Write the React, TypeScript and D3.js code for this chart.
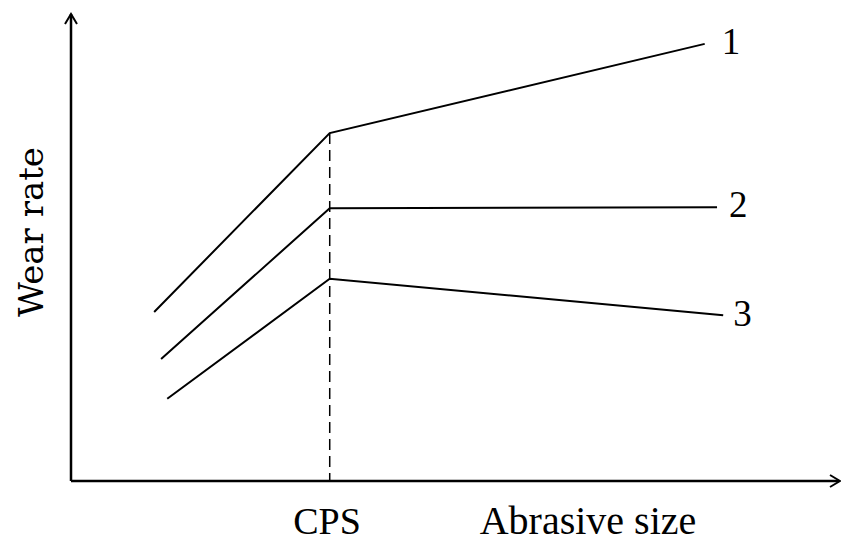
import React from "react";
import * as d3 from "d3";

const seriesNames = ["1", "2", "3"];
const seriesX = [
  [10.8, 33.6, 82.3],
  [11.7, 33.6, 83.9],
  [12.5, 33.6, 84.7],
];
const seriesY = [
  [36.2, 74.5, 93.6],
  [26.1, 58.4, 58.6],
  [17.6, 43.3, 35.5],
];
const cpsX = 33.6;
const cpsPeak = 74.5;
const xLabels = ["CPS", "Abrasive size"];
const yLabel = "Wear rate";

const W = 841;
const H = 543;

export default function App() {
  const x = d3.scaleLinear().domain([0, 100]).range([71, 841]);
  const y = d3.scaleLinear().domain([0, 100]).range([481, 14]);
  const line = d3
    .line<[number, number]>()
    .x((d) => x(d[0]))
    .y((d) => y(d[1]));
  const font = "Liberation Serif, Times New Roman, serif";
  const fontY = "DejaVu Serif, serif";
  const labelOffsets = [
    [17, 10],
    [12, 10],
    [10, 11],
  ];
  return (
    <svg
      width={W}
      height={H}
      style={{ position: "absolute", left: 0, top: 0, background: "#fff" }}
    >
      <line x1={x(0)} y1={y(0)} x2={x(0)} y2={y(100)} stroke="#000" strokeWidth={2.5} />
      <path
        d={`M${x(0) - 6},${y(100) + 10} L${x(0)},${y(100)} L${x(0) + 6},${y(100) + 10}`}
        fill="none"
        stroke="#000"
        strokeWidth={2}
      />
      <line x1={x(0)} y1={y(0)} x2={839} y2={y(0)} stroke="#000" strokeWidth={2.5} />
      <path
        d={`M${830},${y(0) - 6} L${840},${y(0)} L${830},${y(0) + 6}`}
        fill="none"
        stroke="#000"
        strokeWidth={2}
      />
      <line
        x1={x(cpsX)}
        y1={y(cpsPeak)}
        x2={x(cpsX)}
        y2={y(0)}
        stroke="#000"
        strokeWidth={1.5}
        strokeDasharray="11,6"
      />
      {seriesNames.map((name, i) => {
        const pts = seriesX[i].map((v, j) => [v, seriesY[i][j]] as [number, number]);
        const last = pts[pts.length - 1];
        return (
          <g key={name}>
            <path d={line(pts) || ""} fill="none" stroke="#000" strokeWidth={2} />
            <text
              x={x(last[0]) + labelOffsets[i][0]}
              y={y(last[1]) + labelOffsets[i][1]}
              fontFamily={font}
              fontSize={37}
              fill="#000"
            >
              {name}
            </text>
          </g>
        );
      })}
      <text x={327} y={534} textAnchor="middle" fontFamily={font} fontSize={38} fill="#000">
        {xLabels[0]}
      </text>
      <text x={588} y={534} textAnchor="middle" fontFamily={font} fontSize={40} fill="#000">
        {xLabels[1]}
      </text>
      <text
        transform="translate(43,232) rotate(-90)"
        textAnchor="middle"
        fontFamily={fontY}
        fontSize={34}
        fill="#000"
      >
        {yLabel}
      </text>
    </svg>
  );
}
